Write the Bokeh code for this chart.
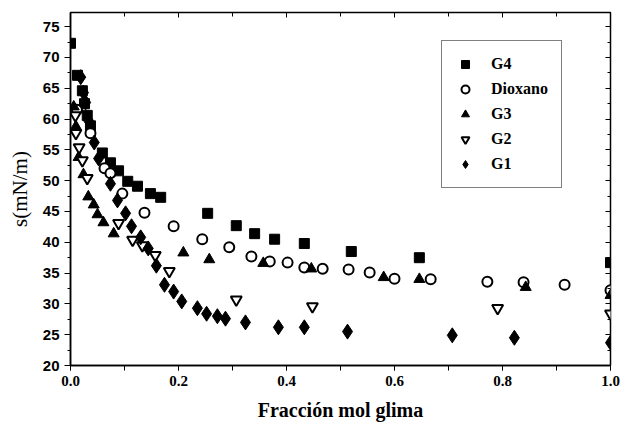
from bokeh.plotting import figure
from bokeh.models import (LinearAxis, Legend, LegendItem, SingleIntervalTicker, Range1d,
                          CustomJSTickFormatter, PrintfTickFormatter)
from bokeh.embed import file_html
from bokeh.resources import INLINE

# Surface tension vs. glyme mole fraction
g4_x = [0.0, 0.013, 0.022, 0.026, 0.031, 0.037, 0.059, 0.074, 0.089, 0.106, 0.124, 0.148,
        0.167, 0.254, 0.307, 0.341, 0.378, 0.433, 0.520, 0.646, 1.0]
g4_y = [72.3, 67.1, 64.6, 62.5, 60.6, 58.9, 54.5, 52.9, 51.6, 49.9, 49.1, 47.9,
        47.3, 44.7, 42.7, 41.4, 40.5, 39.8, 38.5, 37.5, 36.7]

dio_x = [0.012, 0.037, 0.063, 0.074, 0.096, 0.137, 0.191, 0.244, 0.294, 0.335, 0.369,
         0.402, 0.433, 0.467, 0.515, 0.554, 0.600, 0.667, 0.772, 0.839, 0.915, 1.0]
dio_y = [61.5, 57.7, 52.0, 51.2, 47.9, 44.8, 42.6, 40.5, 39.2, 37.7, 36.9,
         36.7, 35.9, 35.7, 35.6, 35.1, 34.1, 34.0, 33.6, 33.5, 33.1, 32.2]

g3_x = [0.006, 0.010, 0.015, 0.024, 0.033, 0.043, 0.050, 0.061, 0.080, 0.209, 0.257,
        0.357, 0.446, 0.580, 0.646, 0.843, 1.0]
g3_y = [62.0, 58.8, 53.8, 51.0, 47.4, 46.1, 44.5, 43.2, 41.4, 38.3, 37.2,
        36.6, 35.7, 34.3, 34.0, 32.7, 31.4]

g2_x = [0.009, 0.010, 0.016, 0.022, 0.031, 0.089, 0.115, 0.133, 0.157, 0.183, 0.307,
        0.448, 0.791, 1.0]
g2_y = [60.6, 57.7, 55.4, 53.3, 50.4, 43.1, 40.4, 39.5, 37.9, 35.3, 30.7,
        29.6, 29.3, 28.4]

g1_x = [0.019, 0.024, 0.028, 0.033, 0.044, 0.052, 0.074, 0.087, 0.102, 0.113, 0.130,
        0.144, 0.159, 0.174, 0.191, 0.206, 0.235, 0.252, 0.272, 0.287, 0.324, 0.385,
        0.433, 0.513, 0.707, 0.822, 1.0]
g1_y = [66.8, 64.3, 62.7, 59.8, 56.2, 53.6, 49.5, 46.8, 44.7, 42.6, 40.8,
        39.0, 36.2, 33.1, 32.0, 30.4, 29.3, 28.4, 28.0, 27.6, 27.0, 26.2,
        26.2, 25.5, 24.9, 24.5, 23.7]

series_labels = ["G4", "Dioxano", "G3", "G2", "G1"]

SERIF = "Liberation Serif"
SANS = "Liberation Sans"

p = figure(width=622, height=425, output_backend="svg", toolbar_location=None,
           x_range=Range1d(0, 1), y_range=Range1d(20, 77.3),
           min_border_left=70, min_border_right=12, min_border_top=12,
           min_border_bottom=60)
p.grid.visible = False
p.outline_line_color = "black"
p.outline_line_width = 1.5
p.background_fill_color = "white"
p.border_fill_color = "white"

r_g4 = p.scatter(g4_x, g4_y, marker="square", size=10, color="black")
r_dio = p.scatter(dio_x, dio_y, marker="circle", size=10, line_color="black",
                  fill_color="white", line_width=2)
r_g3 = p.scatter(g3_x, g3_y, marker="triangle", size=11, color="black")
r_g2 = p.scatter(g2_x, g2_y, marker="inverted_triangle", size=11, line_color="black",
                 fill_color="white", line_width=2)
r_g1 = p.scatter(g1_x, g1_y, marker="diamond", size=15, color="black")

# bottom / left axes
xa = p.xaxis[0]
xa.ticker = SingleIntervalTicker(interval=0.2, num_minor_ticks=2)
xa.formatter = PrintfTickFormatter(format="%.1f")
xa.axis_label = "Fracción mol glima"
xa.axis_label_text_font = SERIF
xa.axis_label_text_font_style = "bold"
xa.axis_label_text_font_size = "20px"
xa.axis_label_text_color = "black"
xa.axis_label_standoff = 10
xa.major_label_text_font = SERIF
xa.major_label_text_font_style = "bold"
xa.major_label_text_font_size = "15px"
xa.major_label_text_color = "black"
xa.major_label_standoff = 5
xa.major_tick_out = 5
xa.major_tick_in = 0
xa.minor_tick_out = 5
xa.minor_tick_in = 0
xa.axis_line_width = 1.5
xa.major_tick_line_color = "black"
xa.minor_tick_line_color = "black"
xa.axis_line_color = "black"

ya = p.yaxis[0]
ya.ticker = SingleIntervalTicker(interval=5, num_minor_ticks=2)
ya.axis_label = "s(mN/m)"
ya.axis_label_text_font = SERIF
ya.axis_label_text_font_style = "normal"
ya.axis_label_text_font_size = "21px"
ya.axis_label_text_color = "black"
ya.axis_label_standoff = 8
ya.major_label_text_font = SANS
ya.major_label_text_font_style = "bold"
ya.major_label_text_font_size = "15px"
ya.major_label_text_color = "black"
ya.major_tick_out = 6
ya.major_tick_in = 0
ya.minor_tick_out = 3
ya.minor_tick_in = 0
ya.axis_line_width = 1.5
ya.major_tick_line_color = "black"
ya.minor_tick_line_color = "black"
ya.axis_line_color = "black"

# mirrored tick marks on the top and right edges
blank = CustomJSTickFormatter(code="return ''")
top = LinearAxis(ticker=SingleIntervalTicker(interval=0.2, num_minor_ticks=2),
                 formatter=blank, major_label_standoff=0,
                 major_tick_in=5, major_tick_out=0, minor_tick_in=4, minor_tick_out=0,
                 axis_line_color=None, major_tick_line_color="black",
                 minor_tick_line_color="black")
right = LinearAxis(ticker=SingleIntervalTicker(interval=5, num_minor_ticks=2),
                   formatter=blank, major_label_standoff=0,
                   major_tick_in=5, major_tick_out=0, minor_tick_in=3, minor_tick_out=0,
                   axis_line_color=None, major_tick_line_color="black",
                   minor_tick_line_color="black")
p.add_layout(top, "above")
p.add_layout(right, "right")

renderers = [r_g4, r_dio, r_g3, r_g2, r_g1]
legend = Legend(items=[LegendItem(label=lab, renderers=[r])
                       for lab, r in zip(series_labels, renderers)],
                location=(371, 177))
legend.label_text_font = SERIF
legend.label_text_font_style = "bold"
legend.label_text_font_size = "16px"
legend.label_text_color = "black"
legend.label_standoff = 16
legend.glyph_width = 20
legend.glyph_height = 20
legend.label_height = 20
legend.spacing = 5
legend.padding = 13
legend.margin = 0
legend.border_line_color = "black"
legend.border_line_width = 1.2
legend.background_fill_alpha = 1
p.add_layout(legend, "center")

open("out.html", "w").write(file_html(p, INLINE))
